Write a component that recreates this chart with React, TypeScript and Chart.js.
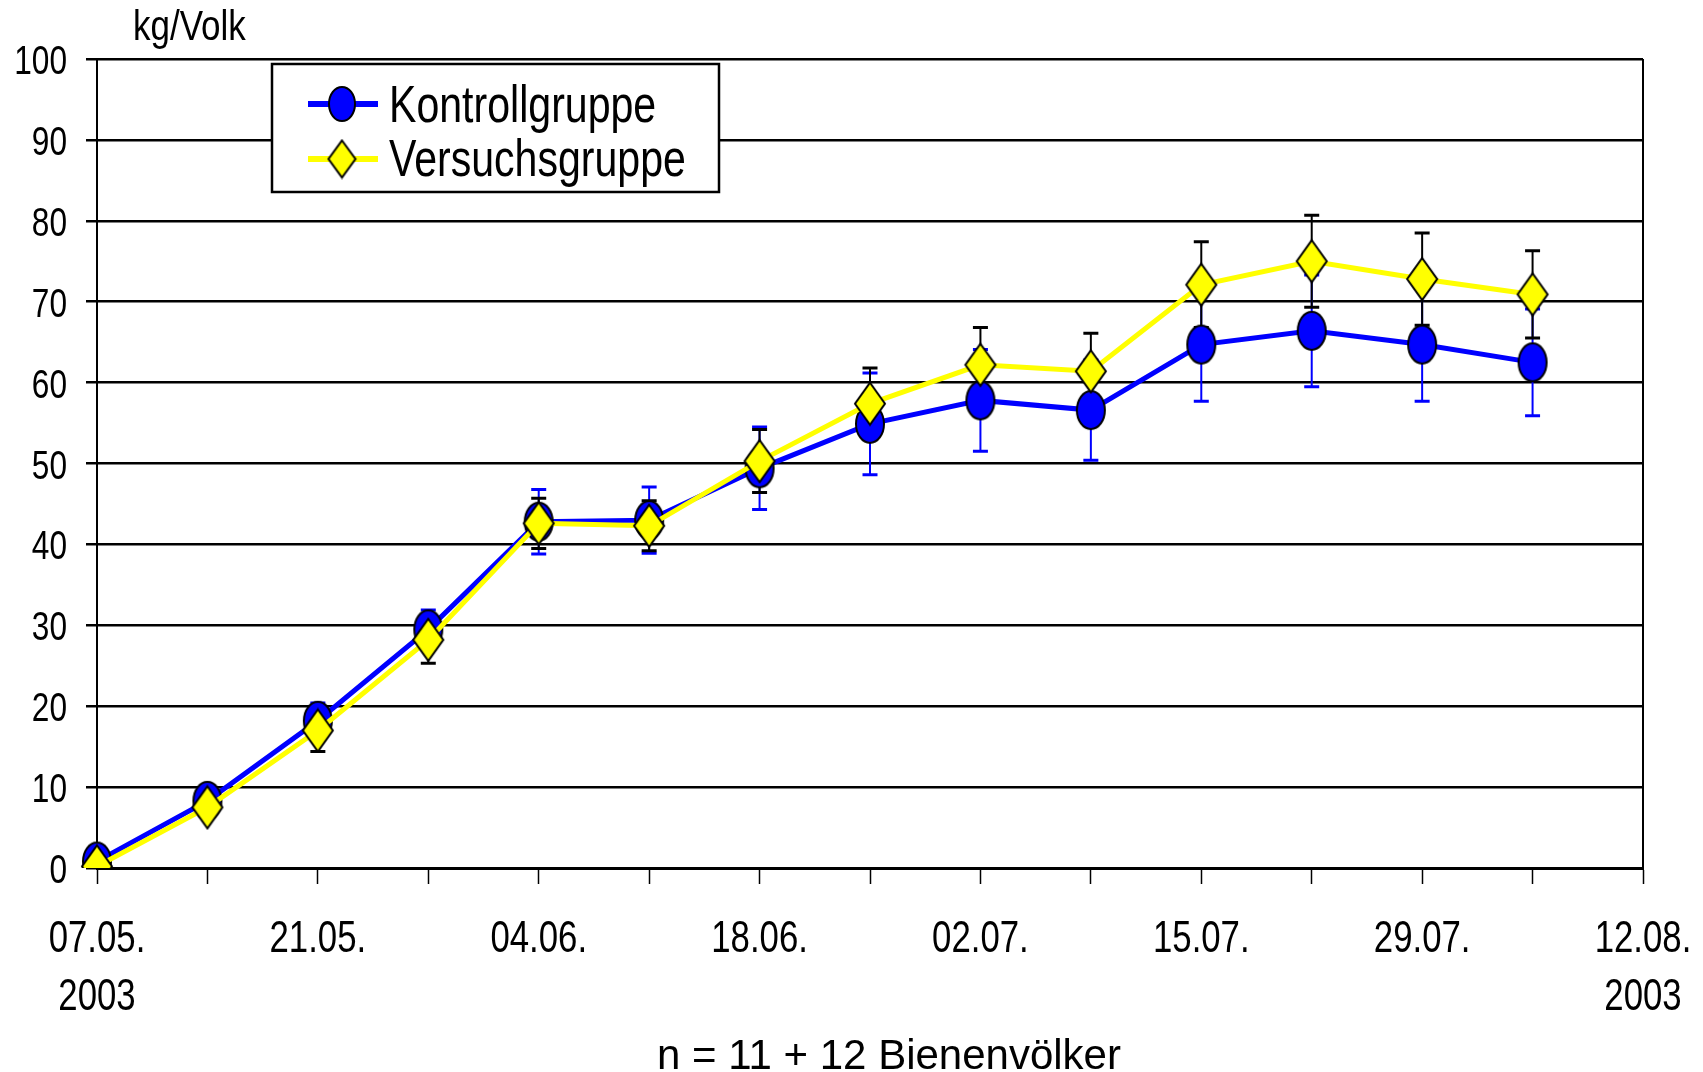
import React, { useEffect, useRef } from "react";
import { Chart, registerables } from "chart.js";

Chart.register(...registerables);

// ---- data ----
const xLabels: (string | string[])[] = [
  ["07.05.", "2003"], "", "21.05.", "", "04.06.", "", "18.06.", "", "02.07.", "", "15.07.", "", "29.07.", "", ["12.08.", "2003"],
];
const kontroll = [0.8, 8.3, 18.2, 29.5, 42.8, 43.0, 49.4, 54.9, 57.8, 56.6, 64.7, 66.4, 64.7, 62.5];
const kontrollErr = [0, 0.8, 2.2, 2.4, 4.0, 4.1, 5.1, 6.3, 6.3, 6.2, 7.0, 6.9, 7.0, 6.6];
const versuch = [0.2, 7.5, 17.0, 28.2, 42.6, 42.3, 50.3, 57.4, 62.2, 61.4, 72.1, 75.0, 72.8, 70.9];
const versuchErr = [0, 0.8, 2.6, 2.9, 3.1, 3.1, 3.9, 4.4, 4.6, 4.7, 5.3, 5.7, 5.7, 5.4];
const seriesNames = ["Kontrollgruppe", "Versuchsgruppe"];
const yUnit = "kg/Volk";
const footNote = "n = 11 + 12 Bienenvölker";

const BLUE = "#0000FF";
const YELLOW = "#FFFF00";
const SANS = "'Liberation Sans', Arial, sans-serif";
const NARROW_SX = 0.79;

function makeEllipse(w: number, h: number): HTMLCanvasElement {
  const c = document.createElement("canvas");
  c.width = w + 4;
  c.height = h + 4;
  const g = c.getContext("2d")!;
  g.beginPath();
  g.ellipse(c.width / 2, c.height / 2, w / 2, h / 2, 0, 0, Math.PI * 2);
  g.fillStyle = BLUE;
  g.fill();
  g.lineWidth = 2;
  g.strokeStyle = "#000";
  g.stroke();
  return c;
}

function makeDiamond(w: number, h: number): HTMLCanvasElement {
  const c = document.createElement("canvas");
  c.width = w + 4;
  c.height = h + 4;
  const g = c.getContext("2d")!;
  const cx = c.width / 2, cy = c.height / 2;
  g.beginPath();
  g.moveTo(cx, cy - h / 2);
  g.lineTo(cx + w / 2, cy);
  g.lineTo(cx, cy + h / 2);
  g.lineTo(cx - w / 2, cy);
  g.closePath();
  g.fillStyle = YELLOW;
  g.fill();
  g.lineWidth = 2;
  g.strokeStyle = "#000";
  g.stroke();
  return c;
}

function scaledText(ctx: CanvasRenderingContext2D, text: string, x: number, y: number, size: number, sx: number, align: CanvasTextAlign = "left") {
  ctx.save();
  ctx.font = `${size}px ${SANS}`;
  ctx.fillStyle = "#000";
  ctx.textBaseline = "alphabetic";
  ctx.textAlign = align;
  ctx.translate(x, y);
  ctx.scale(sx, 1);
  ctx.fillText(text, 0, 0);
  ctx.restore();
}

export default function App() {
  const ref = useRef<HTMLCanvasElement | null>(null);

  useEffect(() => {
    if (!ref.current) return;
    const ellipse = makeEllipse(28, 38);
    const diamond = makeDiamond(30, 42);
    const ellipseL = makeEllipse(26, 34);
    const diamondL = makeDiamond(27, 37);

    const errorBars = {
      id: "errorBars",
      beforeDatasetsDraw(chart: any) {
        const { ctx, scales } = chart;
        const x = scales.x, y = scales.y;
        const draw = (vals: number[], errs: number[], color: string) => {
          ctx.save();
          ctx.strokeStyle = color;
          for (let i = 0; i < vals.length; i++) {
            const e = errs[i];
            if (!e) continue;
            const px = x.getPixelForValue(i);
            const yt = y.getPixelForValue(vals[i] + e);
            const yb = y.getPixelForValue(vals[i] - e);
            ctx.lineWidth = 2;
            ctx.beginPath();
            ctx.moveTo(px, yt);
            ctx.lineTo(px, yb);
            ctx.stroke();
            ctx.lineWidth = 3;
            ctx.beginPath();
            ctx.moveTo(px - 7.5, yt);
            ctx.lineTo(px + 7.5, yt);
            ctx.moveTo(px - 7.5, yb);
            ctx.lineTo(px + 7.5, yb);
            ctx.stroke();
          }
          ctx.restore();
        };
        draw(kontroll, kontrollErr, BLUE);
        draw(versuch, versuchErr, "#000000");
      },
    };

    const tickLabels = {
      id: "tickLabels",
      afterDraw(chart: any) {
        const { ctx, scales } = chart;
        const x = scales.x, y = scales.y;
        xLabels.forEach((lab, i) => {
          const lines = Array.isArray(lab) ? lab : [lab];
          const px = x.getPixelForValue(i);
          lines.forEach((t, k) => {
            if (t) scaledText(ctx, t, px, x.top + 84 + k * 58, 44, NARROW_SX, "center");
          });
        });
        y.ticks.forEach((tk: any) => {
          const py = y.getPixelForValue(tk.value);
          scaledText(ctx, String(tk.value), 67, py + 15, 40, NARROW_SX, "right");
        });
      },
    };

    const decorations = {
      id: "decorations",
      afterDraw(chart: any) {
        const { ctx, chartArea } = chart;
        ctx.save();
        ctx.strokeStyle = "#000";
        ctx.lineWidth = 2;
        ctx.beginPath();
        ctx.moveTo(chartArea.right, chartArea.top);
        ctx.lineTo(chartArea.right, chartArea.bottom);
        ctx.stroke();
        ctx.restore();

        ctx.save();
        ctx.fillStyle = "#fff";
        ctx.fillRect(272, 64, 447, 128);
        ctx.strokeStyle = "#000";
        ctx.lineWidth = 2.5;
        ctx.strokeRect(272, 64, 447, 128);
        const rows = [
          { y: 104, color: BLUE, img: ellipseL, text: seriesNames[0], base: 122 },
          { y: 159, color: YELLOW, img: diamondL, text: seriesNames[1], base: 176 },
        ];
        for (const r of rows) {
          ctx.strokeStyle = r.color;
          ctx.lineWidth = 6;
          ctx.beginPath();
          ctx.moveTo(308, r.y);
          ctx.lineTo(378, r.y);
          ctx.stroke();
          ctx.drawImage(r.img, 342 - r.img.width / 2, r.y - r.img.height / 2);
          scaledText(ctx, r.text, 389, r.base, 52, NARROW_SX);
        }
        ctx.restore();

        scaledText(ctx, yUnit, 133, 40, 43, NARROW_SX * 1.03);
        scaledText(ctx, footNote, 889, 1069, 42, 1, "center");
      },
    };

    const chart = new Chart(ref.current, {
      type: "line",
      data: {
        labels: xLabels as any,
        datasets: [
          {
            label: seriesNames[0],
            data: kontroll,
            borderColor: BLUE,
            backgroundColor: BLUE,
            borderWidth: 5,
            pointStyle: ellipse as any,
            pointRadius: 19,
            tension: 0,
            order: 2,
          },
          {
            label: seriesNames[1],
            data: versuch,
            borderColor: YELLOW,
            backgroundColor: YELLOW,
            borderWidth: 5,
            pointStyle: diamond as any,
            pointRadius: 21,
            tension: 0,
            order: 1,
          },
        ],
      },
      options: {
        responsive: false,
        animation: false,
        devicePixelRatio: 1,
        layout: { padding: { top: 59, right: 60, left: 0, bottom: 0 } },
        plugins: { legend: { display: false }, tooltip: { enabled: false } },
        scales: {
          x: {
            type: "category",
            offset: false,
            grid: {
              drawOnChartArea: false,
              drawTicks: true,
              tickLength: 16,
              tickWidth: 1.5,
              tickColor: "#000",
            },
            border: { display: true, color: "#000", width: 3 },
            ticks: { display: false, autoSkip: false, maxRotation: 0, minRotation: 0 },
            afterFit(scale: any) {
              scale.height = 204;
            },
          },
          y: {
            min: 0,
            max: 100,
            grid: {
              color: "#000",
              lineWidth: 2.5,
              drawTicks: true,
              tickLength: 11,
            },
            border: { display: true, color: "#000", width: 2 },
            ticks: { display: false, stepSize: 10 },
            afterFit(scale: any) {
              scale.width = 97;
            },
          },
        },
      },
      plugins: [errorBars, tickLabels, decorations],
    });
    return () => chart.destroy();
  }, []);

  return (
    <div style={{ position: "absolute", left: 0, top: 0, width: 1703, height: 1072, background: "#fff" }}>
      <canvas ref={ref} width={1703} height={1072} style={{ display: "block" }} />
    </div>
  );
}
